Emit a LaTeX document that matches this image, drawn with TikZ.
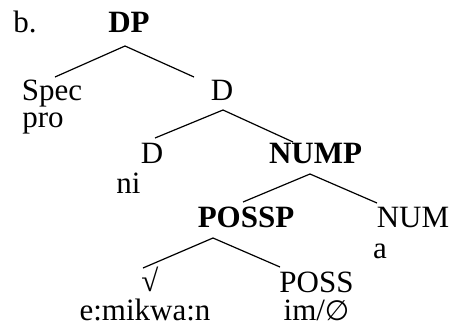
\documentclass[tikz,border=0pt]{standalone}
\usepackage{fontspec}
\setmainfont{Liberation Serif}
\newfontfamily\emptysetfont{DejaVu Sans}

\begin{document}
\begin{tikzpicture}[
    x=0.5pt, y=-0.5pt,
    word/.style={inner sep=0pt, anchor=base, font=\fontsize{15.5}{18}\selectfont},
    phrase/.style={word, font=\fontsize{15.5}{18}\selectfont\bfseries},
    branch/.style={line width=0.6pt}
]
\useasboundingbox (0,0) rectangle (455,327);

\node[word, anchor=base west] (label) at (13,32) {b.};
\node[phrase] (dp) at (129,32) {DP};
\node[word] (spec) at (52,100) {Spec};
\node[word, anchor=base west] (pro) at (22,127) {pro};
\node[word] (dbar) at (222,100) {D};
\node[word] (d) at (152,163) {D};
\node[word] (ni) at (128.5,193) {ni};
\node[phrase] (nump) at (315.5,163) {NUMP};
\node[phrase] (possp) at (246,227) {POSSP};
\node[word] (num) at (413,227) {NUM};
\node[word] (a) at (380,258) {a};
\node[word] (root) at (150,291) {√};
\node[word] (stem) at (145,320) {e:mikwa:n};
\node[word] (poss) at (316.5,292) {POSS};
\node[word] (im) at (316.5,320) {im/{\emptysetfont\fontsize{14}{18}\selectfont ∅}};

% branches
\draw[branch] ([shift={(3,-23)}]spec.base) -- ([shift={(-4,14)}]dp.base) -- ([shift={(-28,-23)}]dbar.base);
\draw[branch] ([shift={(3,-25)}]d.base) -- ([shift={(1,10)}]dbar.base) -- ([shift={(-22.5,-21)}]nump.base);
\draw[branch] ([shift={(-3,-25)}]possp.base) -- ([shift={(-5.5,11)}]nump.base) -- ([shift={(-36,-24)}]num.base);
\draw[branch] ([shift={(-7,-23)}]root.base) -- ([shift={(-33,11)}]possp.base) -- ([shift={(-36.5,-25)}]poss.base);
\end{tikzpicture}
\end{document}
